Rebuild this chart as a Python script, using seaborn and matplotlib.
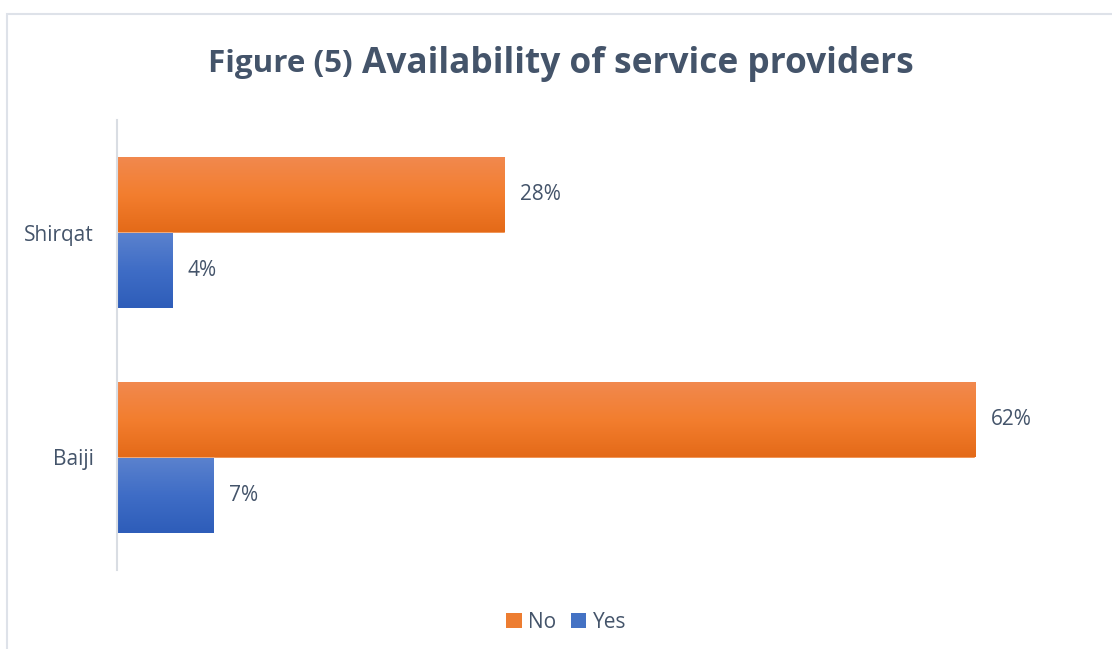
import numpy as np
import pandas as pd
import matplotlib
matplotlib.use("Agg")
import matplotlib.pyplot as plt
from matplotlib.colors import LinearSegmentedColormap
from matplotlib.patches import Rectangle, Patch
import seaborn as sns

# Survey results (percent of respondents)
regions = ["Shirqat", "Baiji"]
answers = ["No", "Yes"]
no_values = [28, 62]
yes_values = [4, 7]

df = pd.DataFrame({
    "Region": regions * 2,
    "Answer": ["No"] * len(regions) + ["Yes"] * len(regions),
    "Value": no_values + yes_values,
})

sns.set_theme(style="white")
plt.rcParams["font.family"] = ["Open Sans", "DejaVu Sans"]

text_color = "#44546A"
base_colors = {"No": "#ED7D31", "Yes": "#4472C4"}
gradients = {
    "No": LinearSegmentedColormap.from_list("no_grad", ["#F1894F", "#F37E2F", "#E46A18"]),
    "Yes": LinearSegmentedColormap.from_list("yes_grad", ["#5B82CE", "#3F6DC6", "#2E5DB9"]),
}

fig = plt.figure(figsize=(11.12, 6.49), dpi=100)
W, H = 1112, 649
ax = fig.add_axes([117 / W, 1 - 570 / H, (1086 - 117) / W, 450 / H])

sns.barplot(data=df, y="Region", x="Value", hue="Answer", order=regions,
            hue_order=answers, palette=base_colors, orient="h",
            width=151 / 225, ax=ax, legend=False, saturation=1)

ax.set_xlim(0, 70)
ax.set_ylim(1.5, -0.5)

# Vertical gradient fill on each bar, plus value labels
for container, answer in zip(ax.containers, answers):
    for bar in container:
        x0, y0 = bar.get_x(), bar.get_y()
        w, h = bar.get_width(), bar.get_height()
        grad = np.linspace(0, 1, 256).reshape(-1, 1)
        im = ax.imshow(grad, cmap=gradients[answer], aspect="auto",
                       extent=(x0, x0 + w, y0 + h, y0), origin="upper",
                       zorder=bar.get_zorder() + 0.1, interpolation="bilinear")
        im.set_clip_path(bar)
        ax.text(x0 + w + 1.1, y0 + h / 2, f"{w:.0f}%", va="center", ha="left",
                fontsize=15, color=text_color)

ax.set_xlim(0, 70)
ax.set_ylim(1.5, -0.5)
ax.set_xlabel("")
ax.set_ylabel("")
ax.set_xticks([])
ax.tick_params(axis="y", length=0, pad=16.5, labelsize=15, labelcolor=text_color)
for side in ["top", "right", "bottom"]:
    ax.spines[side].set_visible(False)
ax.spines["left"].set_color("#D9DDE3")
ax.spines["left"].set_linewidth(1.5)

# Chart frame
fig.patches.append(Rectangle((7 / W, -0.01), 1.02, 1 - 14 / H + 0.01,
                             transform=fig.transFigure, fill=False,
                             edgecolor="#DEE2E9", linewidth=1.5))

# Two-part title: smaller "Figure (5)" prefix followed by the main heading
renderer = fig.canvas.get_renderer()
title_y = 1 - 64 / H
t1 = fig.text(208 / W, title_y, "Figure (5)", ha="left", va="center",
              fontsize=20, fontweight="bold", color=text_color)
t1.set_fontsize(20 * 145 / t1.get_window_extent(renderer).width)
t2 = fig.text(362 / W, title_y, "Availability of service providers", ha="left",
              va="center", fontsize=24, fontweight="bold", color=text_color)
t2.set_fontsize(24 * 551 / t2.get_window_extent(renderer).width)

handles = [Patch(facecolor=base_colors[a], edgecolor="none", label=a) for a in answers]
fig.legend(handles=handles, loc="center", bbox_to_anchor=(566 / W, 1 - 622 / H),
           ncol=2, frameon=False, fontsize=15, labelcolor=text_color,
           handlelength=0.75, handleheight=0.75, handletextpad=0.3, columnspacing=0.7)

fig.savefig("out.png", dpi=100)
